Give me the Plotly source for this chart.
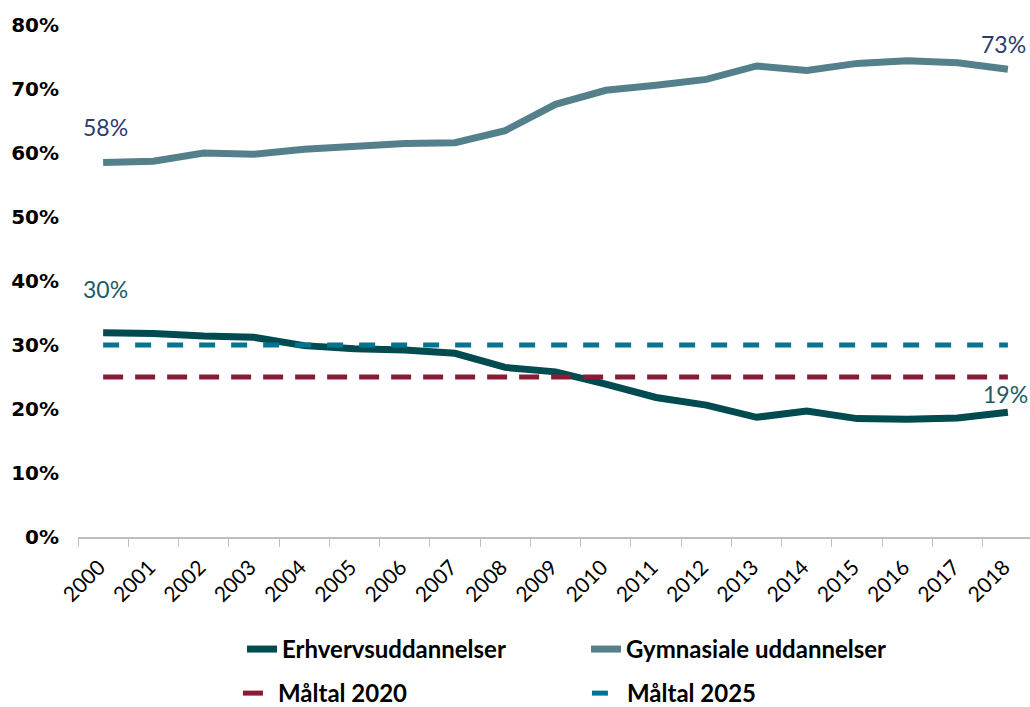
import plotly.graph_objects as go

years = ["2000", "2001", "2002", "2003", "2004", "2005", "2006", "2007", "2008", "2009",
         "2010", "2011", "2012", "2013", "2014", "2015", "2016", "2017", "2018"]
erhverv = [31.9, 31.8, 31.4, 31.2, 29.9, 29.4, 29.2, 28.7, 26.5, 25.8,
           23.9, 21.8, 20.6, 18.7, 19.7, 18.5, 18.4, 18.6, 19.5]
gymnasiale = [58.5, 58.7, 60.0, 59.8, 60.6, 61.1, 61.5, 61.6, 63.5, 67.6,
              69.8, 70.6, 71.5, 73.6, 72.9, 74.0, 74.4, 74.1, 73.1]
maal2020 = [25, 25, 25, 25, 25, 25, 25, 25, 25, 25, 25, 25, 25, 25, 25, 25, 25, 25, 25]
maal2025 = [30, 30, 30, 30, 30, 30, 30, 30, 30, 30, 30, 30, 30, 30, 30, 30, 30, 30, 30]
series_names = ["Erhvervsuddannelser", "Gymnasiale uddannelser", "Måltal 2020", "Måltal 2025"]
y_ticks = [0, 10, 20, 30, 40, 50, 60, 70, 80]
y_tick_labels = ["0%", "10%", "20%", "30%", "40%", "50%", "60%", "70%", "80%"]
end_labels_gym = ["58%", "73%"]
end_labels_erh = ["30%", "19%"]

C_ERH = "#004B50"
C_GYM = "#53808A"
C_2020 = "#8B1A34"
C_2025 = "#007592"
C_LBL_GYM = "#2D3C6E"
C_LBL_ERH = "#1D5B66"

FONT = "Lato"

fig = go.Figure()
fig.add_trace(go.Scatter(x=years, y=erhverv, name=series_names[0], mode="lines",
                         line=dict(color=C_ERH, width=7), legend="legend"))
fig.add_trace(go.Scatter(x=years, y=gymnasiale, name=series_names[1], mode="lines",
                         line=dict(color=C_GYM, width=7), legend="legend"))
fig.add_trace(go.Scatter(x=years, y=maal2020, name=series_names[2], mode="lines",
                         line=dict(color=C_2020, width=5, dash="20px,12px"), legend="legend2"))
fig.add_trace(go.Scatter(x=years, y=maal2025, name=series_names[3], mode="lines",
                         line=dict(color=C_2025, width=5, dash="16px,16px"), legend="legend2"))

# end labels (first and last point of each main series)
first, last = 0, len(years) - 1
lbl_font = dict(family=FONT, size=23)
fig.add_annotation(x=first, y=gymnasiale[first], text=end_labels_gym[0], showarrow=False,
                   yshift=36, xshift=2, font=dict(color=C_LBL_GYM, **lbl_font))
fig.add_annotation(x=last, y=gymnasiale[last], text=end_labels_gym[1], showarrow=False,
                   yshift=25, xshift=-4, font=dict(color=C_LBL_GYM, **lbl_font))
fig.add_annotation(x=first, y=erhverv[first], text=end_labels_erh[0], showarrow=False,
                   yshift=44, xshift=2, font=dict(color=C_LBL_ERH, **lbl_font))
fig.add_annotation(x=last, y=erhverv[last], text=end_labels_erh[1], showarrow=False,
                   yshift=18, xshift=-2, font=dict(color=C_LBL_ERH, **lbl_font))

legend_font = dict(family=FONT, size=24, color="#000000", weight="bold")
fig.update_layout(
    width=1030, height=707,
    margin=dict(l=78, r=0, t=25, b=170, autoexpand=False),
    plot_bgcolor="white", paper_bgcolor="white",
    font=dict(family=FONT, color="#000000"),
    xaxis=dict(type="category", range=[-0.5, 18.44], showgrid=False,
               showline=True, linecolor="#BFBFBF", linewidth=1.5,
               ticks="outside", tickson="boundaries", ticklen=8, tickcolor="#BFBFBF",
               tickangle=-45, ticklabelstandoff=8, ticklabelshift=-4,
               tickfont=dict(family=FONT, size=21, color="#000000")),
    yaxis=dict(range=[0, 80], tickvals=y_ticks, ticktext=y_tick_labels, showgrid=False,
               zeroline=False, showline=False, ticks="", ticklabelstandoff=18,
               tickfont=dict(family="DejaVu Sans", size=20, color="#000000", weight="bold")),
    legend=dict(orientation="h", x=0.1723, xanchor="left", y=0.1132, yanchor="top",
                yref="container", entrywidth=299, entrywidthmode="pixels", font=legend_font,
                bgcolor="rgba(0,0,0,0)"),
    legend2=dict(orientation="h", x=0.168, xanchor="left", y=0.0509, yanchor="top",
                 yref="container", entrywidth=304, entrywidthmode="pixels", font=legend_font,
                 bgcolor="rgba(0,0,0,0)"),
    showlegend=True,
)

fig.write_html("out.html", config={"displayModeBar": False},
               post_script="document.body.style.margin='0';")
